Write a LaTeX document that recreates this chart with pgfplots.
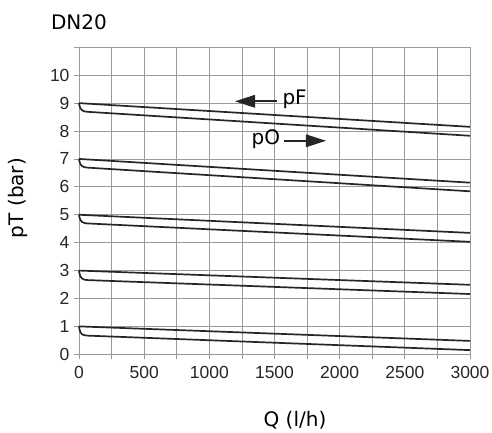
\documentclass[border=0pt]{standalone}
\usepackage{fontspec}
\setmainfont{Liberation Sans}
\newfontfamily\dejavu{DejaVu Sans}
\usepackage{pgfplots}
\pgfplotsset{compat=1.18}
\usetikzlibrary{arrows.meta}
\definecolor{gridc}{HTML}{9A9A9A}
\definecolor{curvec}{HTML}{262626}
\begin{document}
\begin{tikzpicture}
\useasboundingbox (0,0) rectangle (492pt,432pt);
\begin{axis}[
  at={(79pt,77.7pt)}, anchor=south west,
  scale only axis, width=391pt, height=307pt,
  xmin=0, xmax=3000, ymin=0, ymax=11,
  xtick={0,500,...,3000},
  minor xtick={250,750,...,2750},
  ytick={0,1,...,11},
  yticklabels={0,1,2,3,4,5,6,7,8,9,10,{}},
  grid=both,
  grid style={gridc, line width=0.8pt},
  minor grid style={gridc, line width=0.8pt},
  axis line style={gridc, line width=0.8pt},
  tick style={gridc, line width=0.8pt},
  minor tick style={gridc, line width=0.8pt},
  tick align=outside,
  major tick length=5pt, minor tick length=5pt,
  xtick pos=bottom, ytick pos=left,
  scaled x ticks=false,
  /pgf/number format/assume math mode=true,
  /pgf/number format/set thousands separator={},
  tick label style={font=\fontsize{17.5}{20}\selectfont, text=black!85},
  xticklabel style={yshift=-3pt},
  yticklabel style={xshift=-1pt},
  clip=false,
]
% base 9
\addplot[curvec, line width=1.7pt] coordinates {(0,9) (3000,8.15)};
\addplot[curvec, line width=1.7pt, smooth] coordinates {(0,9) (3,8.92) (10,8.82) (22,8.75) (38,8.71) (60,8.69)};
\addplot[curvec, line width=1.7pt] coordinates {(60,8.69) (3000,7.83)};
% base 7
\addplot[curvec, line width=1.7pt] coordinates {(0,7) (3000,6.15)};
\addplot[curvec, line width=1.7pt, smooth] coordinates {(0,7) (3,6.92) (10,6.82) (22,6.75) (38,6.71) (60,6.69)};
\addplot[curvec, line width=1.7pt] coordinates {(60,6.69) (3000,5.84)};
% base 5
\addplot[curvec, line width=1.7pt] coordinates {(0,5) (3000,4.35)};
\addplot[curvec, line width=1.7pt, smooth] coordinates {(0,5) (3,4.92) (10,4.82) (22,4.75) (38,4.71) (60,4.69)};
\addplot[curvec, line width=1.7pt] coordinates {(60,4.69) (3000,4.03)};
% base 3
\addplot[curvec, line width=1.7pt] coordinates {(0,3) (3000,2.49)};
\addplot[curvec, line width=1.7pt, smooth] coordinates {(0,3) (3,2.91) (10,2.80) (22,2.72) (38,2.68) (60,2.66)};
\addplot[curvec, line width=1.7pt] coordinates {(60,2.66) (3000,2.16)};
% base 1
\addplot[curvec, line width=1.7pt] coordinates {(0,1) (3000,0.48)};
\addplot[curvec, line width=1.7pt, smooth] coordinates {(0,1) (3,0.91) (10,0.80) (22,0.72) (38,0.69) (60,0.67)};
\addplot[curvec, line width=1.7pt] coordinates {(60,0.67) (3000,0.15)};
% annotations
\draw[curvec, line width=1.8pt, -{Triangle[length=20pt,width=13pt,line width=0pt,fill=curvec]}] (axis cs:1519,9.065) -- (axis cs:1197,9.065);
\node[anchor=west, inner sep=0pt, font=\dejavu\fontsize{20}{23}\selectfont] at (axis cs:1560,9.13) {pF};
\node[anchor=east, inner sep=0pt, font=\dejavu\fontsize{20}{23}\selectfont] at (axis cs:1545,7.70) {pO};
\draw[curvec, line width=1.8pt, -{Triangle[length=20pt,width=13pt,line width=0pt,fill=curvec]}] (axis cs:1573,7.65) -- (axis cs:1895,7.65);
\end{axis}
\node[font=\dejavu\fontsize{20}{23}\selectfont] at (79pt,410pt) {DN20};
\node[rotate=90, font=\dejavu\fontsize{20}{23}\selectfont] at (18pt,234pt) {pT (bar)};
\node[font=\dejavu\fontsize{20}{23}\selectfont] at (295pt,12pt) {Q (l/h)};
\end{tikzpicture}
\end{document}
